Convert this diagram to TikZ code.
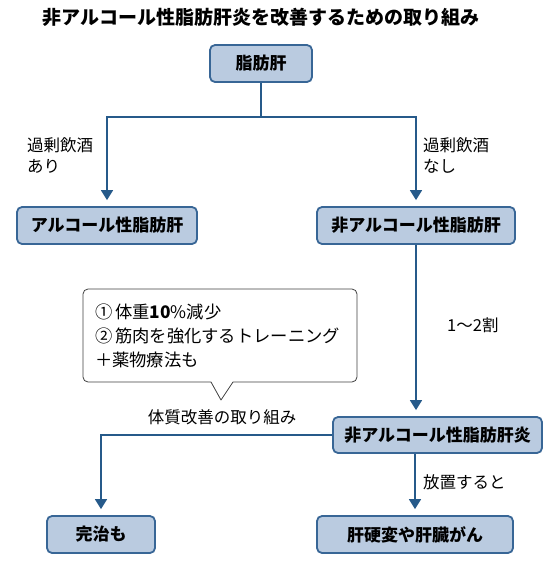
\documentclass[tikz,border=0pt]{standalone}
\usepackage{fontspec}
\setmainfont{Noto Sans CJK JP}
\usepackage{tikz}
\usetikzlibrary{positioning,arrows.meta}

\definecolor{boxfill}{RGB}{186,203,224}
\definecolor{boxline}{RGB}{56,102,150}
\definecolor{flowline}{RGB}{38,90,138}

\begin{document}
\begin{tikzpicture}[x=1pt,y=-1pt,
    box node/.style={rectangle,rounded corners=5pt,fill=boxfill,draw=boxline,line width=1.8pt,
        minimum height=37pt,inner sep=0pt,font=\fontsize{17pt}{20pt}\selectfont\bfseries},
    flow/.style={draw=flowline,line width=1.8pt},
    flow arrow/.style={flow,-{Triangle[width=12pt,length=10pt]},shorten >=6pt},
    label text/.style={font=\fontsize{16.5pt}{21pt}\selectfont,align=left,inner sep=0pt}]
    \useasboundingbox (0,0) rectangle (550,574);

    \node[font=\fontsize{19pt}{22pt}\selectfont\bfseries] (title) at (261,17) {非アルコール性脂肪肝炎を改善するための取り組み};

    \node[box node,minimum width=102pt] (1) at (261,63.5) {脂肪肝};
    \node[box node,minimum width=180pt] (2) at (107,225.5) {アルコール性脂肪肝};
    \node[box node,minimum width=198pt] (3) at (416,225.5) {非アルコール性脂肪肝};
    \node[box node,minimum width=209pt,minimum height=36pt] (4) at (437.5,435) {非アルコール性脂肪肝炎};
    \node[box node,minimum width=108pt] (5) at (101,534.5) {完治も};
    \node[box node,minimum width=196pt] (6) at (415,534.5) {肝硬変や肝臓がん};
    \coordinate (split) at (261,117);

    % labels on the arrows
    \node[label text,anchor=west] (yes) at (27,155) {過剰飲酒\\あり};
    \node[label text,anchor=west] (no) at (423,155) {過剰飲酒\\なし};
    \node[label text,anchor=west] (rate) at (447,325) {1～2割};
    \node[label text,anchor=west] (leave) at (423,482) {放置すると};
    \node[label text] (effort) at (222,417) {体質改善の取り組み};

    % callout
    \node[draw=black!75,line width=0.8pt,rounded corners=5pt,fill=white,
        minimum width=274pt,minimum height=93pt,text width=250pt,inner xsep=12pt,
        label text,font=\fontsize{17.3pt}{24pt}\selectfont] (memo) at (220,335.5)
        {①\,体重{\bfseries 10}\%減少\\②\,筋肉を強化するトレーニング\\＋薬物療法も};
    \fill[white] (211,381) -- (221,399) -- (233,381) -- cycle;
    \draw[black!75,line width=0.8pt,line join=round] (211,382) -- (221,400) -- (233,382);

    \path[flow] (1) -- (split);
    \path[flow arrow] (split) -| (2);
    \path[flow arrow] (split) -| (3);
    \path[flow arrow] (3.south) -- (3.south |- 4.north);
    \path[flow arrow] (4.west) -| (5.north);
    \path[flow arrow] (6.north |- 4.south) -- (6.north);
\end{tikzpicture}
\end{document}
